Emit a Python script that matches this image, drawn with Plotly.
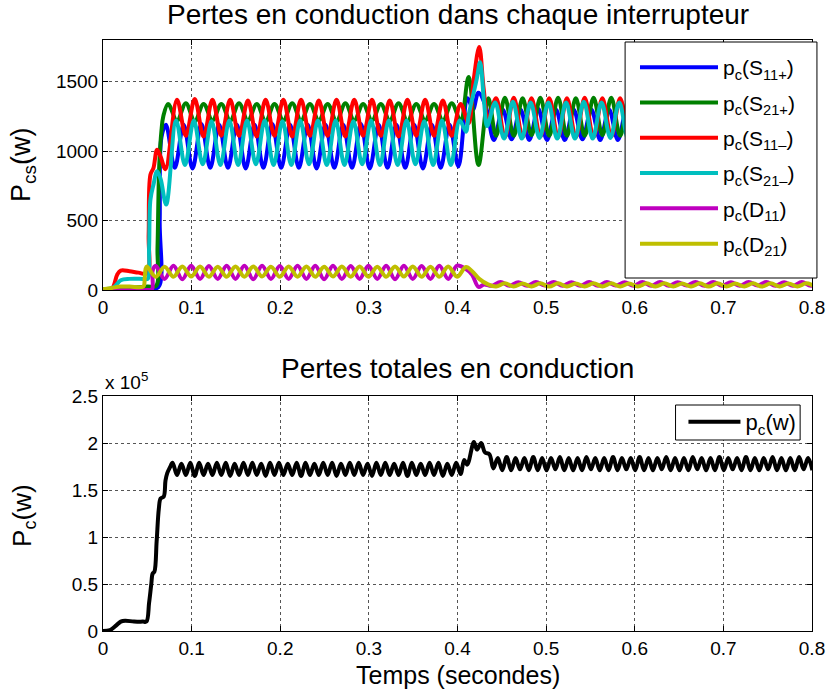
import numpy as np
import plotly.graph_objects as go

# ---------------- data ----------------
HALF = 0.01      # half period of switch/diode oscillation (50 Hz)
HALF_T = 0.005   # half period of total-loss ripple (100 Hz)

# S11+ (blue)
BLUE_T0 = [0.0, 0.030, 0.050, 0.0625, 0.0640, 0.0660]
BLUE_V0 = [5, 10, 15, 20, 500, 1100]
BLUE_OSC1_START = 0.071
BLUE_OSC1 = [1190, 880, 1190, 875, 1195, 880, 1190, 880, 1190, 875, 1190, 880, 1195, 880, 1190, 880,
             1190, 875, 1190, 880, 1190, 880, 1195, 875, 1190, 880, 1190, 880, 1190, 875, 1190, 880, 1190]
BLUE_TR_T = [0.401, 0.4115, 0.4175, 0.4235, 0.432]
BLUE_TR_V = [890, 1380, 1300, 1420, 1320]
BLUE_OSC2_START = 0.441
BLUE_OSC2 = [1080, 1300, 1085, 1300, 1080, 1305, 1080, 1300, 1080, 1300, 1085, 1300, 1080, 1300, 1080, 1305,
             1080, 1300, 1080, 1300, 1085, 1300, 1080, 1300, 1080, 1305, 1080, 1300, 1080, 1300, 1085, 1300,
             1080, 1300, 1080, 1300, 1080]

# S21+ (green)
GREEN_T0 = [0.0, 0.030, 0.050, 0.0600, 0.0615, 0.0635, 0.0660, 0.0680]
GREEN_V0 = [5, 15, 25, 30, 300, 900, 1150, 1250]
GREEN_OSC1_START = 0.0735
GREEN_OSC1 = [1340, 1220, 1345, 1215, 1340, 1220, 1340, 1220, 1345, 1220, 1340, 1215, 1340, 1220, 1345, 1220,
              1340, 1220, 1340, 1215, 1345, 1220, 1340, 1220, 1340, 1220, 1345, 1215, 1340, 1220, 1340, 1220, 1345]
GREEN_TR_T = [0.4035, 0.4125, 0.4237, 0.4348]
GREEN_TR_V = [1220, 1534, 900, 1380]
GREEN_OSC2_START = 0.4435
GREEN_OSC2 = [1110, 1385, 1110, 1380, 1115, 1385, 1110, 1385, 1110, 1380, 1110, 1385, 1115, 1385, 1110, 1380,
              1110, 1385, 1110, 1385, 1115, 1380, 1110, 1385, 1110, 1385, 1110, 1380, 1115, 1385, 1110, 1385,
              1110, 1380, 1110, 1385, 1110]

# S11- (red)
RED_T0 = [0.0, 0.010, 0.016, 0.020, 0.030, 0.040, 0.050, 0.0515, 0.0535, 0.0570, 0.0610, 0.0650, 0.0705]
RED_V0 = [5, 10, 110, 140, 135, 125, 120, 400, 830, 880, 1010, 960, 870]
RED_OSC1_START = 0.0835
RED_OSC1 = [1370, 1110, 1375, 1105, 1370, 1110, 1370, 1110, 1365, 1105, 1370, 1110, 1370, 1105, 1370, 1110,
            1365, 1110, 1370, 1105, 1370, 1110, 1370, 1110, 1365, 1105, 1370, 1110, 1370, 1110, 1365, 1110]
RED_TR_T = [0.4035, 0.4125, 0.4180, 0.4245, 0.4295, 0.4345]
RED_TR_V = [1340, 1200, 1500, 1750, 1450, 1230]
RED_OSC2_START = 0.4435
RED_OSC2 = [1380, 1100, 1385, 1100, 1380, 1105, 1380, 1100, 1380, 1100, 1385, 1100, 1380, 1105, 1380, 1100,
            1380, 1100, 1385, 1100, 1380, 1100, 1380, 1105, 1380, 1100, 1385, 1100, 1380, 1100, 1380, 1105,
            1380, 1100, 1385, 1100, 1380]

# S21- (cyan)
CYAN_T0 = [0.0, 0.012, 0.020, 0.030, 0.045, 0.0505, 0.0520, 0.0535, 0.0570, 0.0610, 0.0650, 0.0713]
CYAN_V0 = [5, 20, 70, 80, 80, 80, 300, 650, 760, 855, 800, 615]
CYAN_OSC1_START = 0.0825
CYAN_OSC1 = [1220, 900, 1220, 905, 1215, 900, 1220, 900, 1220, 905, 1220, 900, 1215, 900, 1220, 905,
             1220, 900, 1220, 900, 1215, 905, 1220, 900, 1220, 900, 1220, 905, 1215, 900, 1220, 900]
CYAN_TR_T = [0.4025, 0.4095, 0.4125, 0.4218, 0.4255, 0.4300, 0.4335]
CYAN_TR_V = [1220, 1140, 1256, 1522, 1640, 1350, 1180]
CYAN_OSC2_START = 0.4425
CYAN_OSC2 = [1350, 1090, 1355, 1090, 1350, 1095, 1350, 1090, 1350, 1090, 1355, 1090, 1350, 1095, 1350, 1090,
             1350, 1090, 1355, 1090, 1350, 1090, 1350, 1095, 1350, 1090, 1355, 1090, 1350, 1090, 1350, 1095,
             1350, 1090, 1355, 1090, 1350]

# D11 (magenta)
MAG_T0 = [0.0, 0.050, 0.0553, 0.0560]
MAG_V0 = [0, 0, 5, 140]
MAG_OSC1_START = 0.0595
MAG_OSC1 = [175, 80, 175, 78, 175, 80, 172, 80, 175, 80, 175, 78, 175, 80, 172, 80, 175, 80,
            175, 78, 175, 80, 172, 80, 175, 80, 175, 78, 175, 80, 172, 80, 175, 80, 175]
MAG_TR_T = [0.4095, 0.4165, 0.4237, 0.4300]
MAG_TR_V = [150, 110, 22, 40]
MAG_OSC2_START = 0.4385
MAG_OSC2 = [30, 58, 30, 56, 30, 58, 32, 58, 30, 56, 30, 58, 30, 58, 32, 56, 30, 58, 30,
            58, 30, 56, 32, 58, 30, 58, 30, 56, 30, 58, 32, 58, 30, 56, 30, 58, 30, 58]

# D21 (yellow)
YEL_T0 = [0.0, 0.010, 0.020, 0.030, 0.0455, 0.0470, 0.0480]
YEL_V0 = [5, 15, 25, 25, 25, 80, 150]
YEL_OSC1_START = 0.0495
YEL_OSC1 = [170, 95, 168, 95, 170, 97, 170, 95, 168, 95, 170, 95, 170, 97, 168, 95, 170, 95,
            170, 95, 168, 97, 170, 95, 170, 95, 168, 95, 170, 97, 170, 95, 168, 95, 170, 95]
YEL_TR_T = [0.4095, 0.4165, 0.4245, 0.4345]
YEL_TR_V = [165, 135, 80, 40]
YEL_OSC2_START = 0.4435
YEL_OSC2 = [25, 48, 25, 47, 26, 48, 25, 48, 25, 47, 25, 48, 26, 48, 25, 47, 25, 48, 25,
            48, 26, 47, 25, 48, 25, 48, 25, 47, 26, 48, 25, 48, 25, 47, 25, 48, 25]

# Total conduction losses (units of 1e5 W)
TOT_T0 = [0.0, 0.008, 0.015, 0.020, 0.025, 0.035, 0.045, 0.049, 0.052, 0.0545, 0.056, 0.058,
          0.0605, 0.063, 0.065, 0.0685, 0.0705, 0.0725, 0.0755]
TOT_V0 = [0.0, 0.01, 0.06, 0.10, 0.11, 0.10, 0.10, 0.10, 0.30, 0.50, 0.61, 0.63,
          0.95, 1.30, 1.41, 1.43, 1.60, 1.68, 1.74]
TOT_OSC1_START = 0.0785
TOT_OSC1 = [1.79, 1.66, 1.78, 1.66, 1.79, 1.65, 1.79, 1.66, 1.78, 1.66, 1.79, 1.66, 1.79, 1.65, 1.78, 1.66,
            1.79, 1.66, 1.79, 1.66, 1.78, 1.65, 1.79, 1.66, 1.79, 1.66, 1.78, 1.66, 1.79, 1.65, 1.79, 1.66,
            1.78, 1.66, 1.79, 1.66, 1.79, 1.65, 1.78, 1.66, 1.79, 1.66, 1.79, 1.66, 1.78, 1.65, 1.79, 1.66,
            1.79, 1.66, 1.78, 1.66, 1.79, 1.65, 1.79, 1.66, 1.78, 1.66, 1.79, 1.66, 1.79, 1.65, 1.78, 1.66,
            1.79]
TOT_TR_T = [0.4035, 0.4075, 0.4110, 0.4185, 0.4220, 0.4267, 0.4310, 0.4360, 0.4404]
TOT_TR_V = [1.67, 1.82, 1.77, 2.01, 1.93, 2.00, 1.90, 1.88, 1.73]
TOT_OSC2_START = 0.4455
TOT_OSC2 = [1.84, 1.71, 1.85, 1.71, 1.84, 1.72, 1.84, 1.71, 1.85, 1.71, 1.84, 1.71, 1.84, 1.72, 1.85, 1.71,
            1.84, 1.71, 1.84, 1.71, 1.85, 1.72, 1.84, 1.71, 1.84, 1.71, 1.85, 1.71, 1.84, 1.72, 1.84, 1.71,
            1.85, 1.71, 1.84, 1.71, 1.84, 1.72, 1.85, 1.71, 1.84, 1.71, 1.84, 1.71, 1.85, 1.72, 1.84, 1.71,
            1.84, 1.71, 1.85, 1.71, 1.84, 1.72, 1.84, 1.71, 1.85, 1.71, 1.84, 1.71, 1.84, 1.72, 1.85, 1.71,
            1.84, 1.71, 1.84, 1.71, 1.85, 1.72, 1.84, 1.71]

X_TICKS = [0, 0.1, 0.2, 0.3, 0.4, 0.5, 0.6, 0.7, 0.8]
Y1_TICKS = [0, 500, 1000, 1500]
Y2_TICKS = [0, 0.5, 1, 1.5, 2, 2.5]

NAMES = ["p<sub>c</sub>(S<sub>11+</sub>)", "p<sub>c</sub>(S<sub>21+</sub>)",
         "p<sub>c</sub>(S<sub>11–</sub>)", "p<sub>c</sub>(S<sub>21–</sub>)",
         "p<sub>c</sub>(D<sub>11</sub>)", "p<sub>c</sub>(D<sub>21</sub>)"]
COLORS = ["#0000ff", "#008000", "#ff0000", "#00bfbf", "#bf00bf", "#bfbf00"]


def build(t0, v0, s1, o1, half, trt, trv, s2, o2):
    t = list(t0) + list(s1 + half * np.arange(len(o1))) + list(trt) + list(s2 + half * np.arange(len(o2)))
    v = list(v0) + list(o1) + list(trv) + list(o2)
    return t, v


series = [
    build(BLUE_T0, BLUE_V0, BLUE_OSC1_START, BLUE_OSC1, HALF, BLUE_TR_T, BLUE_TR_V, BLUE_OSC2_START, BLUE_OSC2),
    build(GREEN_T0, GREEN_V0, GREEN_OSC1_START, GREEN_OSC1, HALF, GREEN_TR_T, GREEN_TR_V, GREEN_OSC2_START, GREEN_OSC2),
    build(RED_T0, RED_V0, RED_OSC1_START, RED_OSC1, HALF, RED_TR_T, RED_TR_V, RED_OSC2_START, RED_OSC2),
    build(CYAN_T0, CYAN_V0, CYAN_OSC1_START, CYAN_OSC1, HALF, CYAN_TR_T, CYAN_TR_V, CYAN_OSC2_START, CYAN_OSC2),
    build(MAG_T0, MAG_V0, MAG_OSC1_START, MAG_OSC1, HALF, MAG_TR_T, MAG_TR_V, MAG_OSC2_START, MAG_OSC2),
    build(YEL_T0, YEL_V0, YEL_OSC1_START, YEL_OSC1, HALF, YEL_TR_T, YEL_TR_V, YEL_OSC2_START, YEL_OSC2),
]
tot_t, tot_v = build(TOT_T0, TOT_V0, TOT_OSC1_START, TOT_OSC1, HALF_T, TOT_TR_T, TOT_TR_V, TOT_OSC2_START, TOT_OSC2)

# ---------------- figure ----------------
FONT = "Liberation Sans, Arial, sans-serif"
fig = go.Figure()

for i, ((t, v), name, col) in enumerate(zip(series, NAMES, COLORS)):
    fig.add_trace(go.Scatter(x=t, y=v, mode="lines", name=name, legendgroup=f"g{i}",
                             line=dict(color=col, width=4, shape="spline", smoothing=1.0),
                             xaxis="x", yaxis="y", legend="legend"))

fig.add_trace(go.Scatter(x=tot_t, y=tot_v, mode="lines", name="p<sub>c</sub>(w)",
                         line=dict(color="black", width=4, shape="spline", smoothing=1.0),
                         xaxis="x2", yaxis="y2", legend="legend2"))

axis_common = dict(showline=True, linecolor="black", linewidth=1, mirror="ticks",
                   ticks="inside", ticklen=5, tickcolor="black",
                   showgrid=True, gridcolor="#555555", griddash="dot", gridwidth=1,
                   zeroline=False, tickfont=dict(family=FONT, size=19, color="black"))


def px_x(p):
    return (p - 103) / 717


def px_y(p):
    return (631 - p) / 591


fig.update_layout(
    width=837, height=692,
    paper_bgcolor="white", plot_bgcolor="white",
    margin=dict(l=103, r=17, t=40, b=61),
    showlegend=True,
    xaxis=dict(domain=[0, 1], anchor="y", range=[0, 0.8], tickvals=X_TICKS,
               ticktext=[f"{x:g}" for x in X_TICKS], **axis_common),
    yaxis=dict(domain=[0.577, 1], anchor="x", range=[0, 1800], tickvals=Y1_TICKS, **axis_common),
    xaxis2=dict(domain=[0, 1], anchor="y2", range=[0, 0.8], tickvals=X_TICKS,
                ticktext=[f"{x:g}" for x in X_TICKS], **axis_common),
    yaxis2=dict(domain=[0, 0.3976], anchor="x2", range=[0, 2.5], tickvals=Y2_TICKS,
                ticktext=[f"{y:g}" for y in Y2_TICKS], **axis_common),
    legend=dict(x=px_x(641), y=px_y(47), xanchor="left", yanchor="top", bgcolor="rgba(0,0,0,0)",
                borderwidth=0, font=dict(family=FONT, size=21, color="black"),
                itemwidth=78, tracegroupgap=5, traceorder="grouped"),
    legend2=dict(x=px_x(690), y=px_y(401), xanchor="left", yanchor="top", bgcolor="rgba(0,0,0,0)",
                 borderwidth=0, font=dict(family=FONT, size=22, color="black"),
                 itemwidth=52),
    shapes=[
        dict(type="rect", xref="paper", yref="paper", x0=px_x(631), x1=px_x(825),
             y0=px_y(278), y1=px_y(42), fillcolor="white", line=dict(color="black", width=1),
             layer="above"),
        dict(type="rect", xref="paper", yref="paper", x0=px_x(682), x1=px_x(808),
             y0=px_y(440), y1=px_y(405), fillcolor="white", line=dict(color="black", width=1),
             layer="above"),
    ],
    annotations=[
        dict(text="Pertes en conduction dans chaque interrupteur", xref="paper", yref="paper",
             x=0.5, y=px_y(15), xanchor="center", yanchor="middle", showarrow=False,
             font=dict(family=FONT, size=28, color="black")),
        dict(text="Pertes totales en conduction", xref="paper", yref="paper",
             x=0.5, y=px_y(368), xanchor="center", yanchor="middle", showarrow=False,
             font=dict(family=FONT, size=28, color="black")),
        dict(text="P<sub>cs</sub>(w)", xref="paper", yref="paper", textangle=-90,
             x=px_x(22), y=px_y(165), xanchor="center", yanchor="middle", showarrow=False,
             font=dict(family=FONT, size=27, color="black")),
        dict(text="P<sub>c</sub>(w)", xref="paper", yref="paper", textangle=-90,
             x=px_x(22), y=px_y(515), xanchor="center", yanchor="middle", showarrow=False,
             font=dict(family=FONT, size=26, color="black")),
        dict(text="Temps (secondes)", xref="paper", yref="paper",
             x=0.5, y=px_y(675), xanchor="center", yanchor="middle", showarrow=False,
             font=dict(family=FONT, size=25, color="black")),
        dict(text="x 10<sup>5</sup>", xref="paper", yref="paper",
             x=0, y=px_y(381), xanchor="left", yanchor="middle", showarrow=False,
             font=dict(family=FONT, size=19, color="black")),
    ],
)

fig.write_html("out.html")
